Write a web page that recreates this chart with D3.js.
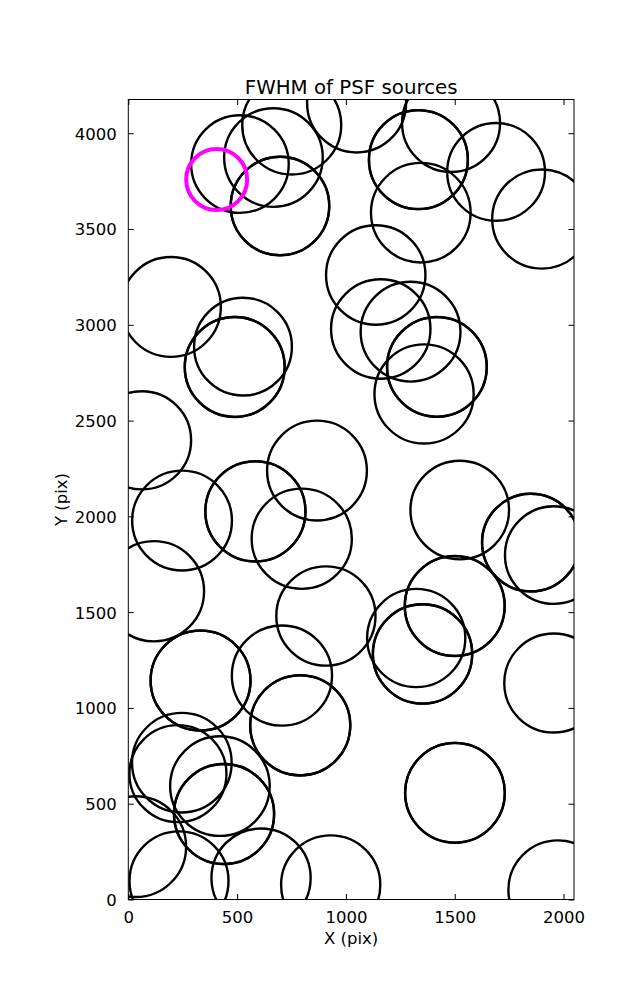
<!DOCTYPE html>
<html>
<head>
<meta charset="utf-8">
<script src="https://cdn.jsdelivr.net/npm/d3@7"></script>
<style>
  html, body { margin: 0; padding: 0; background: #fff; }
  svg text { font-family: "DejaVu Sans", sans-serif; fill: #000; }
</style>
</head>
<body>
<svg id="chart" width="637" height="1000"></svg>
<script>
// ---- data (detector pixel coordinates, FWHM in pixels) ----
const srcX = [513, 667, 751, 1049, 697, 697, 1333, 1333, 1483, 1690, 1344, 1900,
  1137, 1160, 1297, 1418, 1418, 1359, 196, 527, 489, 489, 63, 867, 247, 584, 584,
  797, 1523, 1850, 1850, 1955, 118, 908, 1500, 1500, 1323, 1352, 1352, 332, 332,
  706, 1955, 790, 790, 246, 228, 421, 440, 440, 34, 233, 610, 930, 1501, 1501, 1974];
const srcY = [3839, 3873, 4043, 4158, 3620, 3620, 3862, 3862, 4053, 3798, 3585, 3552,
  3260, 2978, 2964, 2780, 2780, 2639, 3093, 2886, 2780, 2780, 2397, 2239, 1978, 2026, 2026,
  1883, 2033, 1863, 1863, 1798, 1609, 1480, 1532, 1532, 1365, 1282, 1282, 1143, 1143,
  1169, 1130, 909, 909, 714, 657, 592, 446, 446, 276, 97, 112, 76, 557, 557, 50];
const srcFWHM = [4.88, 4.93, 4.95, 4.95, 4.92, 4.93, 4.94, 4.95, 4.90, 4.89, 4.98, 4.96,
  4.97, 4.97, 4.99, 4.98, 4.99, 4.96, 4.99, 4.89, 5.00, 4.99, 4.91, 4.99, 4.99, 5.01, 5.00,
  5.01, 4.93, 4.88, 4.89, 4.88, 5.01, 4.96, 5.00, 4.99, 4.91, 4.96, 4.97, 4.99, 5.00,
  5.01, 4.95, 5.01, 5.00, 4.98, 4.85, 4.98, 5.01, 5.00, 5.04, 4.95, 4.96, 4.96, 4.98, 4.99, 4.95];
const refX = [406];
const refY = [3758];
const refFWHM = [3.05];
const xTicks = [0, 500, 1000, 1500, 2000];
const yTicks = [0, 500, 1000, 1500, 2000, 2500, 3000, 3500, 4000];
const xDomain = [0, 2048];
const yDomain = [0, 4176];
const titleText = "FWHM of PSF sources";
const xLabel = "X (pix)";
const yLabel = "Y (pix)";

// ---- layout ----
const L = 128.3, R = 574, T = 99.5, B = 899.5;
const svg = d3.select("#chart");
const x = d3.scaleLinear().domain(xDomain).range([L, R]);
const y = d3.scaleLinear().domain(yDomain).range([B, T]);
const r = d3.scaleLinear().domain([0, 1]).range([0, 10]);

const sources = srcX.map((v, i) => ({x: v, y: srcY[i], f: srcFWHM[i]}));
const refs = refX.map((v, i) => ({x: v, y: refY[i], f: refFWHM[i]}));

svg.append("defs").append("clipPath").attr("id", "clip")
  .append("rect").attr("x", L).attr("y", T).attr("width", R - L).attr("height", B - T);

const plot = svg.append("g").attr("clip-path", "url(#clip)");
plot.selectAll("circle.src").data(sources).join("circle")
  .attr("class", "src")
  .attr("cx", d => x(d.x)).attr("cy", d => y(d.y)).attr("r", d => r(d.f))
  .attr("fill", "none").attr("stroke", "#000").attr("stroke-width", 2.4);
plot.selectAll("circle.ref").data(refs).join("circle")
  .attr("class", "ref")
  .attr("cx", d => x(d.x)).attr("cy", d => y(d.y)).attr("r", d => r(d.f))
  .attr("fill", "none").attr("stroke", "#ff00ff").attr("stroke-width", 4);

// ---- axes (inward ticks on all sides) ----
const tl = 5.5, fs = 16.5;
const fmt = d3.format("d");
const axB = svg.append("g").attr("transform", `translate(0,${B})`)
  .call(d3.axisBottom(x).tickValues(xTicks).tickFormat(fmt).tickSizeInner(-tl).tickSizeOuter(0).tickPadding(tl + 6));
const axT = svg.append("g").attr("transform", `translate(0,${T})`)
  .call(d3.axisTop(x).tickValues(xTicks).tickSizeInner(-tl).tickSizeOuter(0).tickFormat(""));
const axL = svg.append("g").attr("transform", `translate(${L},0)`)
  .call(d3.axisLeft(y).tickValues(yTicks).tickFormat(fmt).tickSizeInner(-tl).tickSizeOuter(0).tickPadding(tl + 6));
const axR = svg.append("g").attr("transform", `translate(${R},0)`)
  .call(d3.axisRight(y).tickValues(yTicks).tickSizeInner(-tl).tickSizeOuter(0).tickFormat(""));
[axB, axT, axL, axR].forEach(a => {
  a.select(".domain").remove();
  a.selectAll(".tick line").attr("stroke", "#000").attr("stroke-width", 1);
  a.selectAll("text").attr("font-family", "DejaVu Sans").attr("font-size", fs).attr("fill", "#000");
});
axB.selectAll("text").attr("dy", "0.71em");
axL.selectAll("text").attr("dy", "0.36em");

svg.append("rect").attr("x", L).attr("y", T).attr("width", R - L).attr("height", B - T)
  .attr("fill", "none").attr("stroke", "#000").attr("stroke-width", 1);

// ---- labels ----
svg.append("text").attr("x", (L + R) / 2).attr("y", 93.5).attr("text-anchor", "middle")
  .attr("font-size", 19.8).text(titleText);
svg.append("text").attr("x", (L + R) / 2).attr("y", 944).attr("text-anchor", "middle")
  .attr("font-size", fs).text(xLabel);
svg.append("text").attr("transform", `translate(67,${(T + B) / 2}) rotate(-90)`)
  .attr("text-anchor", "middle").attr("font-size", fs).text(yLabel);
</script>
</body>
</html>
